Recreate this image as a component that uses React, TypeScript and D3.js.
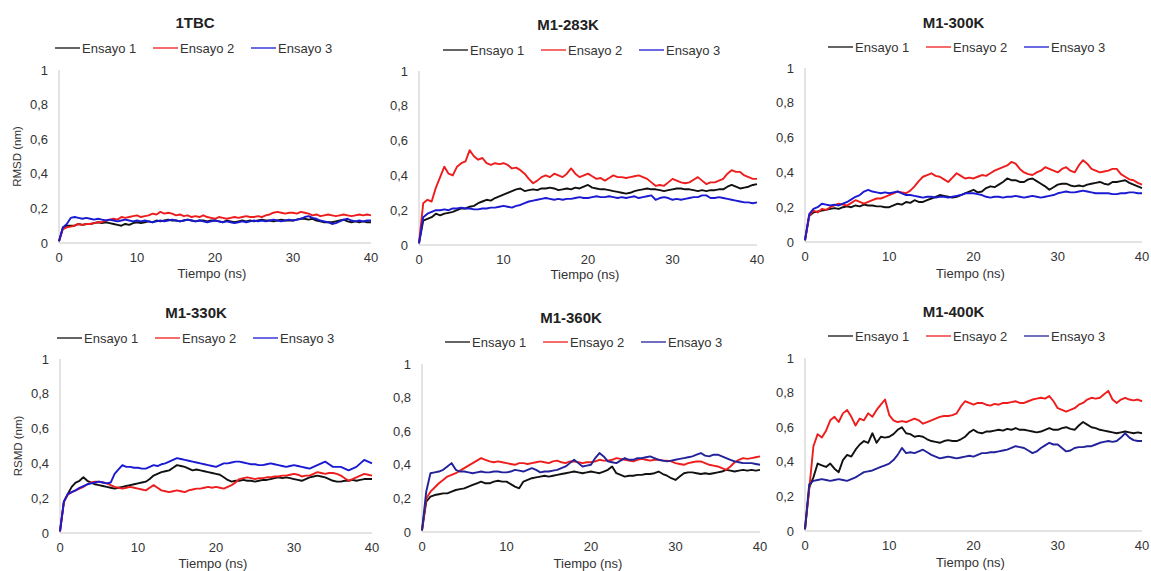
import React from 'react';
import * as d3 from 'd3';

// sampling grid: one value every 0.5 ns, 0..40 ns
const tiempo = d3.range(0, 40.001, 0.5);
const ensayos = ['Ensayo 1', 'Ensayo 2', 'Ensayo 3'];
const yTicks = [0, 0.2, 0.4, 0.6, 0.8, 1];
const xTicks = [0, 10, 20, 30, 40];

// 1TBC
const tbcE1 = [0.01,0.09,0.10,0.10,0.10,0.11,0.105,0.11,0.11,0.115,
  0.12,0.115,0.12,0.115,0.11,0.105,0.10,0.11,0.105,0.115,
  0.12,0.115,0.12,0.125,0.12,0.13,0.125,0.13,0.135,0.13,
  0.13,0.125,0.13,0.135,0.13,0.125,0.13,0.13,0.125,0.13,
  0.13,0.125,0.12,0.13,0.125,0.12,0.125,0.13,0.125,0.13,
  0.125,0.13,0.135,0.13,0.13,0.125,0.13,0.135,0.13,0.13,
  0.13,0.135,0.14,0.14,0.135,0.14,0.13,0.125,0.12,0.12,
  0.12,0.125,0.13,0.135,0.125,0.12,0.125,0.12,0.125,0.12,0.12];
const tbcE2 = [0.01,0.08,0.09,0.095,0.10,0.11,0.105,0.11,0.11,0.115,
  0.12,0.12,0.13,0.135,0.14,0.135,0.15,0.145,0.15,0.155,
  0.16,0.15,0.155,0.16,0.17,0.165,0.18,0.17,0.175,0.17,
  0.16,0.165,0.155,0.16,0.15,0.155,0.15,0.16,0.15,0.145,
  0.14,0.15,0.145,0.14,0.145,0.15,0.145,0.15,0.155,0.15,
  0.15,0.155,0.15,0.16,0.165,0.175,0.18,0.175,0.17,0.175,
  0.175,0.17,0.18,0.175,0.17,0.16,0.165,0.155,0.16,0.165,
  0.16,0.155,0.16,0.165,0.16,0.155,0.16,0.165,0.16,0.165,0.16];
const tbcE3 = [0.01,0.09,0.11,0.145,0.15,0.145,0.14,0.145,0.14,0.135,
  0.14,0.135,0.13,0.135,0.13,0.125,0.13,0.135,0.13,0.125,
  0.13,0.125,0.13,0.125,0.12,0.125,0.13,0.125,0.13,0.135,
  0.13,0.125,0.13,0.135,0.13,0.125,0.13,0.125,0.12,0.125,
  0.13,0.125,0.12,0.125,0.12,0.115,0.12,0.125,0.12,0.125,
  0.13,0.125,0.13,0.125,0.13,0.135,0.13,0.125,0.13,0.135,
  0.13,0.135,0.14,0.15,0.155,0.145,0.14,0.13,0.125,0.12,
  0.11,0.115,0.125,0.135,0.14,0.13,0.125,0.13,0.125,0.13,0.13];

// M1-283K
const k283E1 = [0.01,0.14,0.15,0.16,0.18,0.17,0.18,0.185,0.19,0.20,
  0.21,0.21,0.22,0.225,0.24,0.25,0.26,0.255,0.27,0.28,
  0.29,0.30,0.31,0.32,0.325,0.31,0.315,0.32,0.315,0.325,
  0.325,0.33,0.325,0.315,0.32,0.325,0.32,0.33,0.325,0.335,
  0.345,0.33,0.325,0.32,0.32,0.315,0.31,0.305,0.30,0.295,
  0.30,0.31,0.315,0.32,0.325,0.32,0.32,0.315,0.31,0.315,
  0.32,0.325,0.325,0.32,0.32,0.315,0.31,0.315,0.31,0.315,
  0.315,0.32,0.32,0.335,0.345,0.335,0.325,0.33,0.335,0.345,0.35];
const k283E2 = [0.01,0.24,0.26,0.25,0.33,0.39,0.45,0.41,0.40,0.45,
  0.47,0.48,0.545,0.51,0.49,0.50,0.47,0.46,0.47,0.465,
  0.47,0.46,0.44,0.445,0.43,0.41,0.38,0.355,0.37,0.39,
  0.40,0.39,0.41,0.40,0.39,0.41,0.44,0.41,0.39,0.40,
  0.41,0.395,0.38,0.385,0.37,0.385,0.40,0.39,0.39,0.385,
  0.39,0.395,0.40,0.39,0.38,0.36,0.34,0.345,0.34,0.36,
  0.38,0.37,0.36,0.355,0.36,0.375,0.39,0.37,0.35,0.36,
  0.36,0.37,0.38,0.41,0.43,0.42,0.42,0.40,0.39,0.38,0.38];
const k283E3 = [0.01,0.16,0.18,0.19,0.20,0.20,0.205,0.20,0.21,0.21,
  0.215,0.21,0.21,0.205,0.205,0.21,0.21,0.215,0.215,0.22,
  0.225,0.22,0.215,0.225,0.23,0.24,0.25,0.255,0.26,0.265,
  0.27,0.265,0.26,0.265,0.26,0.265,0.265,0.27,0.275,0.27,
  0.27,0.275,0.28,0.275,0.275,0.28,0.275,0.27,0.275,0.27,
  0.275,0.28,0.27,0.275,0.28,0.285,0.26,0.27,0.275,0.27,
  0.26,0.265,0.26,0.265,0.27,0.275,0.275,0.285,0.285,0.27,
  0.27,0.275,0.27,0.265,0.26,0.255,0.25,0.245,0.245,0.24,0.245];

// M1-300K
const k300E1 = [0.01,0.15,0.17,0.175,0.18,0.185,0.19,0.195,0.19,0.20,
  0.205,0.20,0.21,0.205,0.215,0.21,0.21,0.205,0.205,0.20,
  0.20,0.21,0.22,0.215,0.23,0.225,0.24,0.23,0.23,0.24,
  0.25,0.26,0.27,0.265,0.26,0.255,0.26,0.27,0.28,0.29,
  0.30,0.285,0.29,0.31,0.32,0.315,0.33,0.345,0.365,0.355,
  0.355,0.345,0.345,0.36,0.365,0.35,0.335,0.32,0.30,0.315,
  0.33,0.335,0.335,0.325,0.32,0.325,0.32,0.33,0.335,0.34,
  0.345,0.335,0.33,0.345,0.345,0.35,0.355,0.34,0.33,0.32,0.31];
const k300E2 = [0.01,0.15,0.18,0.17,0.19,0.185,0.20,0.21,0.22,0.215,
  0.21,0.225,0.24,0.23,0.22,0.23,0.24,0.25,0.25,0.26,
  0.27,0.28,0.29,0.285,0.28,0.295,0.32,0.35,0.375,0.385,
  0.395,0.38,0.375,0.36,0.345,0.37,0.395,0.38,0.365,0.37,
  0.365,0.375,0.385,0.38,0.395,0.41,0.42,0.43,0.44,0.46,
  0.45,0.42,0.40,0.39,0.385,0.40,0.41,0.43,0.42,0.41,
  0.40,0.42,0.43,0.41,0.40,0.44,0.47,0.45,0.42,0.41,
  0.40,0.405,0.41,0.42,0.42,0.39,0.375,0.36,0.355,0.34,0.33];
const k300E3 = [0.01,0.16,0.19,0.20,0.22,0.215,0.21,0.215,0.21,0.22,
  0.23,0.245,0.26,0.27,0.29,0.30,0.29,0.285,0.28,0.285,
  0.28,0.285,0.29,0.28,0.27,0.27,0.265,0.26,0.255,0.26,
  0.26,0.255,0.26,0.26,0.255,0.26,0.265,0.27,0.28,0.28,
  0.28,0.275,0.27,0.26,0.255,0.26,0.26,0.255,0.26,0.26,
  0.265,0.26,0.255,0.26,0.265,0.26,0.255,0.26,0.265,0.27,
  0.28,0.285,0.29,0.285,0.285,0.29,0.295,0.29,0.285,0.28,
  0.28,0.28,0.28,0.275,0.275,0.28,0.28,0.285,0.285,0.28,0.28];

// M1-330K
const k330E1 = [0.01,0.18,0.225,0.265,0.29,0.30,0.32,0.30,0.29,0.28,
  0.275,0.27,0.265,0.26,0.255,0.26,0.265,0.27,0.275,0.28,
  0.285,0.29,0.295,0.31,0.33,0.34,0.35,0.355,0.36,0.375,
  0.39,0.385,0.38,0.37,0.36,0.365,0.36,0.355,0.35,0.345,
  0.34,0.335,0.32,0.305,0.295,0.30,0.30,0.305,0.30,0.30,
  0.295,0.30,0.305,0.305,0.31,0.315,0.32,0.315,0.32,0.315,
  0.31,0.305,0.30,0.31,0.32,0.325,0.33,0.325,0.32,0.31,
  0.30,0.295,0.295,0.30,0.30,0.305,0.30,0.305,0.31,0.31,0.31];
const k330E2 = [0.01,0.18,0.22,0.235,0.245,0.255,0.265,0.28,0.29,0.295,
  0.295,0.29,0.285,0.275,0.265,0.26,0.255,0.26,0.265,0.26,
  0.255,0.25,0.245,0.26,0.275,0.26,0.245,0.24,0.235,0.24,
  0.245,0.24,0.235,0.245,0.25,0.255,0.255,0.26,0.265,0.26,
  0.265,0.26,0.255,0.265,0.275,0.29,0.31,0.315,0.32,0.315,
  0.31,0.315,0.315,0.32,0.32,0.325,0.325,0.33,0.33,0.335,
  0.34,0.335,0.325,0.33,0.33,0.34,0.35,0.345,0.34,0.345,
  0.345,0.34,0.33,0.315,0.30,0.31,0.32,0.33,0.34,0.335,0.33];
const k330E3 = [0.01,0.18,0.225,0.235,0.245,0.26,0.27,0.28,0.285,0.29,
  0.295,0.29,0.285,0.29,0.34,0.365,0.39,0.38,0.38,0.375,
  0.375,0.37,0.37,0.38,0.39,0.385,0.395,0.40,0.41,0.42,
  0.43,0.425,0.42,0.415,0.41,0.405,0.40,0.395,0.39,0.385,
  0.38,0.39,0.40,0.40,0.405,0.41,0.41,0.405,0.40,0.395,
  0.395,0.39,0.39,0.395,0.40,0.395,0.39,0.385,0.38,0.385,
  0.39,0.385,0.38,0.375,0.37,0.38,0.39,0.40,0.41,0.395,
  0.38,0.38,0.38,0.37,0.36,0.37,0.38,0.40,0.42,0.41,0.40];

// M1-360K
const k360E1 = [0.01,0.18,0.21,0.22,0.225,0.23,0.23,0.24,0.25,0.255,
  0.26,0.27,0.28,0.29,0.30,0.29,0.29,0.30,0.305,0.30,
  0.30,0.285,0.27,0.26,0.30,0.31,0.32,0.325,0.33,0.335,
  0.33,0.335,0.34,0.345,0.35,0.355,0.36,0.355,0.35,0.355,
  0.36,0.355,0.35,0.36,0.37,0.39,0.35,0.34,0.33,0.335,
  0.335,0.34,0.34,0.345,0.345,0.35,0.36,0.345,0.335,0.32,
  0.31,0.33,0.35,0.355,0.355,0.35,0.345,0.35,0.345,0.35,
  0.355,0.36,0.37,0.365,0.36,0.365,0.37,0.365,0.37,0.365,0.37];
const k360E2 = [0.01,0.20,0.24,0.265,0.29,0.31,0.33,0.34,0.35,0.365,
  0.38,0.395,0.41,0.425,0.44,0.43,0.42,0.415,0.42,0.415,
  0.41,0.405,0.40,0.41,0.41,0.405,0.41,0.415,0.42,0.415,
  0.41,0.42,0.425,0.415,0.41,0.42,0.42,0.415,0.41,0.415,
  0.415,0.42,0.43,0.425,0.425,0.43,0.44,0.435,0.43,0.425,
  0.42,0.43,0.435,0.43,0.425,0.43,0.43,0.425,0.425,0.42,
  0.41,0.405,0.40,0.41,0.415,0.42,0.42,0.41,0.40,0.395,
  0.39,0.38,0.37,0.39,0.415,0.43,0.44,0.435,0.44,0.445,0.45];
const k360E3 = [0.01,0.24,0.35,0.355,0.36,0.37,0.39,0.41,0.37,0.36,
  0.36,0.355,0.35,0.355,0.36,0.355,0.355,0.36,0.36,0.355,
  0.355,0.36,0.37,0.365,0.36,0.37,0.38,0.37,0.355,0.36,
  0.36,0.365,0.37,0.38,0.39,0.41,0.43,0.41,0.39,0.395,
  0.40,0.44,0.47,0.45,0.42,0.415,0.41,0.425,0.44,0.43,
  0.43,0.44,0.44,0.445,0.45,0.44,0.43,0.425,0.42,0.425,
  0.43,0.435,0.44,0.445,0.45,0.46,0.47,0.455,0.45,0.46,
  0.46,0.45,0.44,0.43,0.42,0.415,0.41,0.41,0.41,0.405,0.40];

// M1-400K
const k400E1 = [0.01,0.25,0.31,0.39,0.38,0.37,0.39,0.36,0.34,0.41,
  0.44,0.43,0.47,0.50,0.52,0.51,0.565,0.51,0.545,0.54,
  0.545,0.56,0.585,0.60,0.565,0.56,0.545,0.55,0.545,0.53,
  0.52,0.515,0.51,0.52,0.525,0.52,0.52,0.53,0.545,0.57,
  0.585,0.57,0.565,0.575,0.575,0.58,0.585,0.58,0.59,0.585,
  0.595,0.585,0.585,0.58,0.575,0.57,0.575,0.585,0.595,0.585,
  0.585,0.595,0.60,0.59,0.585,0.61,0.63,0.615,0.60,0.595,
  0.585,0.58,0.575,0.57,0.565,0.57,0.575,0.57,0.565,0.57,0.565];
const k400E2 = [0.01,0.24,0.49,0.56,0.54,0.58,0.64,0.66,0.63,0.68,
  0.70,0.66,0.61,0.65,0.64,0.68,0.66,0.70,0.73,0.76,
  0.67,0.64,0.63,0.635,0.63,0.64,0.65,0.64,0.62,0.63,
  0.64,0.65,0.66,0.665,0.665,0.67,0.68,0.72,0.75,0.74,
  0.73,0.74,0.74,0.73,0.725,0.735,0.73,0.74,0.74,0.745,
  0.75,0.74,0.74,0.75,0.76,0.765,0.77,0.765,0.78,0.75,
  0.71,0.70,0.69,0.70,0.71,0.73,0.74,0.76,0.77,0.765,
  0.77,0.79,0.81,0.76,0.74,0.76,0.77,0.76,0.755,0.76,0.75];
const k400E3 = [0.01,0.27,0.29,0.295,0.30,0.295,0.29,0.295,0.30,0.295,
  0.29,0.30,0.31,0.325,0.34,0.345,0.35,0.36,0.37,0.38,
  0.39,0.41,0.44,0.48,0.45,0.455,0.45,0.46,0.47,0.455,
  0.44,0.43,0.42,0.425,0.43,0.425,0.42,0.425,0.43,0.435,
  0.43,0.44,0.45,0.45,0.455,0.455,0.46,0.465,0.47,0.48,
  0.49,0.485,0.48,0.465,0.45,0.46,0.48,0.495,0.51,0.50,
  0.50,0.48,0.46,0.465,0.48,0.485,0.485,0.49,0.49,0.50,
  0.51,0.515,0.52,0.515,0.52,0.54,0.565,0.54,0.525,0.52,0.52];

const red = '#ee1c1c';
const blueBright = '#1a1ad2';
const blueNavy = '#22229a';

const panels = [
  { title: '1TBC', series: [tbcE1, tbcE2, tbcE3], blue: blueBright, ylabel: 'RMSD (nm)',
    x0: 59, x1: 371, yTop: 70, yBot: 243, titleY: 28, legY: 48, legX: 55, xlabY: 278 },
  { title: 'M1-283K', series: [k283E1, k283E2, k283E3], blue: blueBright, ylabel: '',
    x0: 419, x1: 757, yTop: 71, yBot: 245, titleY: 30, legY: 50, legX: 443, xlabY: 279 },
  { title: 'M1-300K', series: [k300E1, k300E2, k300E3], blue: blueBright, ylabel: '',
    x0: 805, x1: 1142, yTop: 68, yBot: 242, titleY: 28, legY: 47, legX: 828, xlabY: 278 },
  { title: 'M1-330K', series: [k330E1, k330E2, k330E3], blue: blueBright, ylabel: 'RSMD (nm)',
    x0: 60, x1: 372, yTop: 359, yBot: 533, titleY: 318, legY: 338, legX: 57, xlabY: 568 },
  { title: 'M1-360K', series: [k360E1, k360E2, k360E3], blue: blueNavy, ylabel: '',
    x0: 422, x1: 760, yTop: 364, yBot: 532, titleY: 323, legY: 342, legX: 445, xlabY: 568 },
  { title: 'M1-400K', series: [k400E1, k400E2, k400E3], blue: blueNavy, ylabel: '',
    x0: 805, x1: 1142, yTop: 358, yBot: 531, titleY: 317, legY: 336, legX: 828, xlabY: 567 },
];

const font = '"Liberation Sans", Arial, sans-serif';
const fmt = (d: number) => String(d).replace('.', ',');

function Panel({ p }: { p: any }) {
  const x = d3.scaleLinear().domain([0, 40]).range([p.x0, p.x1]);
  const y = d3.scaleLinear().domain([0, 1]).range([p.yBot, p.yTop]);
  const line = d3.line<number>().x((_, i) => x(tiempo[i])).y(d => y(d));
  const colors = ['#111111', red, p.blue];
  const cx = (p.x0 + p.x1) / 2;
  return (
    <g fontFamily={font}>
      <text x={cx - 20} y={p.titleY} textAnchor="middle" fontSize={15} fontWeight="bold" fill="#222">{p.title}</text>
      {ensayos.map((e, i) => (
        <g key={e} transform={`translate(${p.legX + i * 98},${p.legY})`}>
          <line x1={0} x2={25} y1={0} y2={0} stroke={colors[i]} strokeWidth={1.3} />
          <text x={27} y={4.5} fontSize={13} fill="#333">{e}</text>
        </g>
      ))}
      <line x1={p.x0} x2={p.x0} y1={p.yTop} y2={p.yBot} stroke="#c8c8c8" />
      <line x1={p.x0} x2={p.x1} y1={p.yBot} y2={p.yBot} stroke="#c8c8c8" />
      {yTicks.map(t => (
        <text key={t} x={p.x0 - 11} y={y(t) + 4.5} textAnchor="end" fontSize={13} fill="#333">{fmt(t)}</text>
      ))}
      {xTicks.map(t => (
        <text key={t} x={x(t)} y={p.yBot + 19} textAnchor="middle" fontSize={13} fill="#333">{t}</text>
      ))}
      <text x={cx - 3} y={p.xlabY} textAnchor="middle" fontSize={13} fill="#333">Tiempo (ns)</text>
      {p.ylabel && (
        <text transform={`translate(${p.x0 - 38},${(p.yTop + p.yBot) / 2}) rotate(-90)`} textAnchor="middle" fontSize={11.5} fill="#333">{p.ylabel}</text>
      )}
      {p.series.map((s: number[], i: number) => (
        <path key={i} d={line(s) || ''} fill="none" stroke={colors[i]} strokeWidth={1.9} strokeLinejoin="round" />
      ))}
    </g>
  );
}

export default function App() {
  return (
    <div style={{ position: 'absolute', left: 0, top: 0 }}>
      <svg width={1151} height={571} style={{ display: 'block', background: '#fff' }}>
        {panels.map(p => <Panel key={p.title} p={p} />)}
      </svg>
    </div>
  );
}
